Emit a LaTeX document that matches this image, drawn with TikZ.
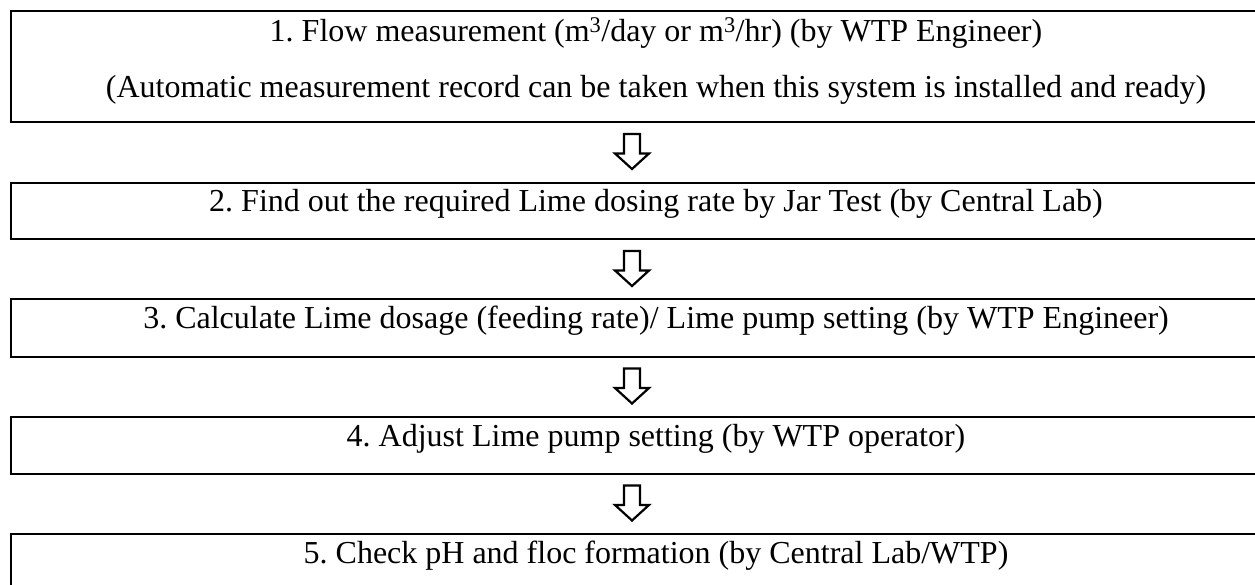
\documentclass[tikz,border=0pt]{standalone}
\usepackage{fontspec}
\setmainfont{Liberation Serif}
\frenchspacing
\begin{document}
\begin{tikzpicture}[x=1pt,y=1pt,
  stepbox/.style={draw, line width=2pt, inner sep=0pt, minimum width=1400pt, anchor=north west},
  lbl/.style={inner sep=0pt, anchor=base, font=\fontsize{32pt}{38pt}\selectfont},
  blockarrow/.style={draw, line width=2.2pt, line join=miter}]
\useasboundingbox (0,0) rectangle (1255,584);
\clip (0,0) rectangle (1255,584);
\node[stepbox, minimum height=111pt]  (b1) at (10,574) {};
\node[stepbox, minimum height=56.5pt] (b2) at (10,402) {};
\node[stepbox, minimum height=57.5pt] (b3) at (10,285.5) {};
\node[stepbox, minimum height=57pt]   (b4) at (10,168) {};
\node[stepbox, minimum height=57pt]   (b5) at (10,51) {};
\node[lbl] (t1a) at (656,542) {1. Flow measurement (m\textsuperscript{3}/day or m\textsuperscript{3}/hr) (by WTP Engineer)};
\node[lbl] (t1b) at (656,486) {(Automatic measurement record can be taken when this system is installed and ready)};
\node[lbl] (t2) at (656,372) {2. Find out the required Lime dosing rate by Jar Test (by Central Lab)};
\node[lbl] (t3) at (656,255.5) {3. Calculate Lime dosage (feeding rate)/ Lime pump setting (by WTP Engineer)};
\node[lbl] (t4) at (656,138) {4. Adjust Lime pump setting (by WTP operator)};
\node[lbl] (t5) at (656,21) {5. Check pH and floc formation (by Central Lab/WTP)};
\coordinate (a1) at (632,432.5);
\coordinate (a2) at (632,315.5);
\coordinate (a3) at (632,198);
\coordinate (a4) at (632,81);
\foreach \a in {a1,a2,a3,a4}{
  \draw[blockarrow] ([shift={(-8,17.5)}]\a) -- ([shift={(8,17.5)}]\a) -- ([shift={(8,-2)}]\a)
    -- ([shift={(17,-2)}]\a) -- ([shift={(0,-17.5)}]\a) -- ([shift={(-17,-2)}]\a)
    -- ([shift={(-8,-2)}]\a) -- cycle;
}
\end{tikzpicture}
\end{document}
